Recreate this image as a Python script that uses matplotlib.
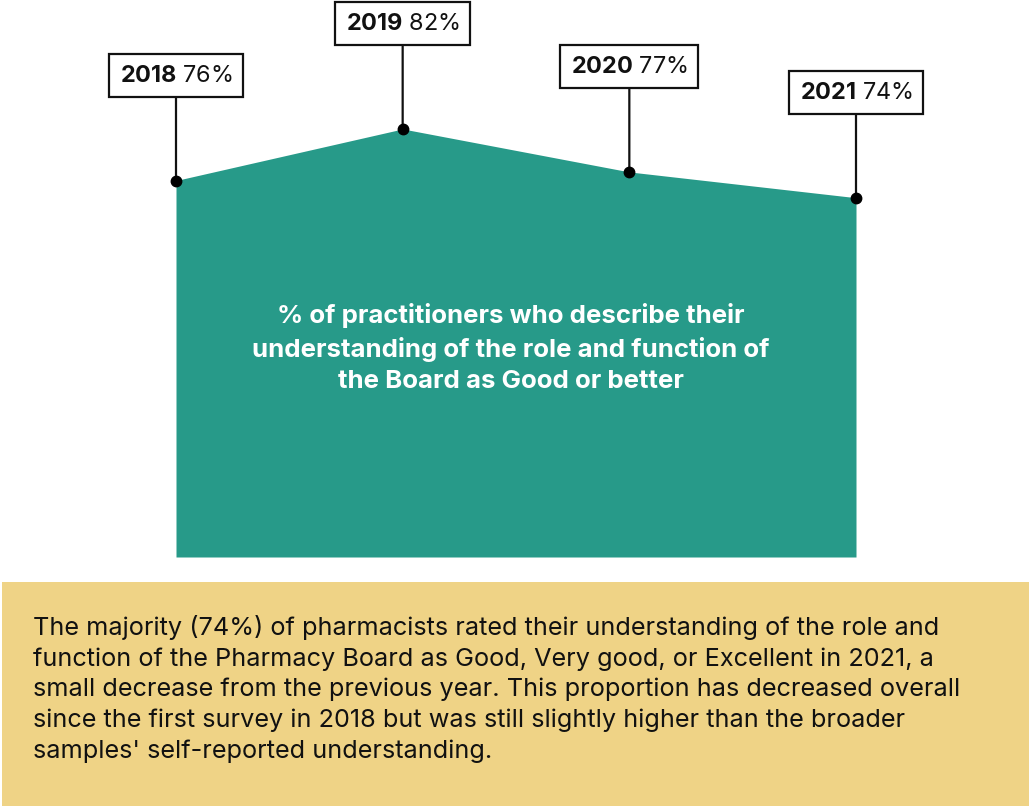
import matplotlib
matplotlib.use("Agg")
import matplotlib.pyplot as plt
from matplotlib.patches import Rectangle

years = ["2018", "2019", "2020", "2021"]
values = [76, 82, 77, 74]
value_labels = ["76%", "82%", "77%", "74%"]
center_title = "% of practitioners who describe their\nunderstanding of the role and function of\nthe Board as Good or better"
summary = ("The majority (74%) of pharmacists rated their understanding of the role and\n"
           "function of the Pharmacy Board as Good, Very good, or Excellent in 2021, a\n"
           "small decrease from the previous year. This proportion has decreased overall\n"
           "since the first survey in 2018 but was still slightly higher than the broader\n"
           "samples' self-reported understanding.")

FONT = "Inter"
plt.rcParams['font.family'] = [FONT, 'DejaVu Sans']
plt.rcParams['mathtext.fontset'] = 'custom'
plt.rcParams['mathtext.rm'] = FONT
plt.rcParams['mathtext.bf'] = FONT + ':bold'

TEAL = "#279A89"
YELLOW = "#EFD386"

W, H = 1029, 806
fig = plt.figure(figsize=(W / 100, H / 100), dpi=100)
fig.patch.set_facecolor("white")

# yellow summary panel
fig.patches.append(Rectangle((2 / W, 0), 1 - 2 / W, (H - 582) / H,
                             transform=fig.transFigure, facecolor=YELLOW,
                             edgecolor="none", zorder=0))
fig.text(33 / W, 1 - 615 / H, summary, ha="left", va="top", fontsize=18.2,
         color="#111111", linespacing=1.39)

ax = fig.add_axes([176 / W, 1 - 557 / H, (856 - 176) / W, 557 / H])
ax.set_xlim(0, len(years) - 1)
ax.set_ylim(32.2, 97.0)
ax.axis("off")

x = list(range(len(years)))
ax.fill_between(x, values, 32.2, color=TEAL, linewidth=0, zorder=1)
ax.plot(x, values, linestyle="none", marker="o", markersize=7.5,
        color="black", zorder=4, clip_on=False)

for xi, yr, v, lab in zip(x, years, values, value_labels):
    ax.annotate(r"$\bf{" + yr + "}$ " + lab, xy=(xi, v),
                xytext=(0, 82 + 23), textcoords="offset pixels",
                ha="center", va="center", fontsize=16.9, color="#111111",
                bbox=dict(boxstyle="square,pad=0.45", facecolor="white",
                          edgecolor="#111111", linewidth=1.6),
                arrowprops=dict(arrowstyle="-", color="#111111", lw=1.6,
                                shrinkA=0, shrinkB=0),
                zorder=3, annotation_clip=False)

fig.text(511 / W, 1 - 348 / H, center_title, ha="center", va="center",
         fontsize=18.6, fontweight="bold", color="white", linespacing=1.43)

fig.savefig("out.png", dpi=100)
